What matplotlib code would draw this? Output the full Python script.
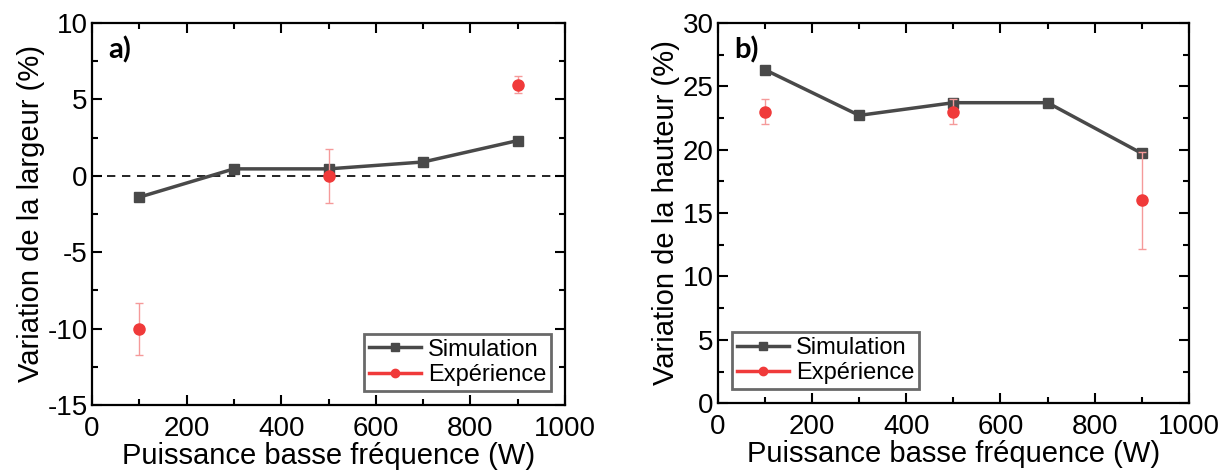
import numpy as np
import matplotlib.pyplot as plt
from matplotlib.ticker import MultipleLocator
from matplotlib.lines import Line2D

plt.rcParams['font.family'] = ['Liberation Sans', 'DejaVu Sans']
plt.rcParams['axes.unicode_minus'] = False

# puissance basse fréquence (W)
p_sim = [100, 300, 500, 700, 900]
p_exp = [100, 500, 900]

# a) variation de la largeur (%)
larg_sim = [-1.4, 0.45, 0.45, 0.9, 2.3]
larg_exp = [-10.0, 0.0, 5.95]
larg_err = [1.7, 1.75, 0.55]

# b) variation de la hauteur (%)
haut_sim = [26.3, 22.7, 23.7, 23.7, 19.7]
haut_exp = [23.0, 23.0, 16.0]
haut_err = [1.0, 1.0, 3.8]

c_sim = '#494949'
c_exp = '#f03a3a'

fig = plt.figure(figsize=(12.27, 4.75), dpi=100)
ax1 = fig.add_axes([0.075, 0.147, 0.3855, 0.805])
ax2 = fig.add_axes([0.585, 0.151, 0.384, 0.801])


def draw(ax, ysim, yexp, yerr):
    ax.plot(p_sim, ysim, '-s', color=c_sim, lw=2.5, ms=7.5, label='Simulation')
    ax.errorbar(p_exp, yexp, yerr=yerr, fmt='o', color=c_exp, ms=8,
                ecolor='#f59a9a', elinewidth=1, capsize=3, capthick=1,
                label='Expérience')
    ax.set_xlim(0, 1000)
    ax.xaxis.set_major_locator(MultipleLocator(200))
    ax.xaxis.set_minor_locator(MultipleLocator(100))
    ax.tick_params(which='both', direction='in', top=True, right=True,
                   width=1.5, labelsize=20, pad=3)
    ax.tick_params(axis='x', which='major', pad=8)
    ax.tick_params(which='major', length=7)
    ax.tick_params(which='minor', length=4)
    for s in ax.spines.values():
        s.set_linewidth(1.6)
    ax.set_xlabel('Puissance basse fréquence (W)', fontsize=21, labelpad=0)


draw(ax1, larg_sim, larg_exp, larg_err)
ax1.axhline(0, color='black', ls=(0, (5, 4)), lw=1.2, zorder=0)
ax1.set_ylim(-15, 10)
ax1.yaxis.set_major_locator(MultipleLocator(5))
ax1.yaxis.set_minor_locator(MultipleLocator(2.5))
ax1.set_ylabel('Variation de la largeur (%)', fontsize=21, labelpad=2)
ax1.text(0.035, 0.965, 'a)', transform=ax1.transAxes, fontsize=21,
         fontweight='bold', family='Lato', va='top')

draw(ax2, haut_sim, haut_exp, haut_err)
ax2.set_ylim(0, 30)
ax2.yaxis.set_major_locator(MultipleLocator(5))
ax2.yaxis.set_minor_locator(MultipleLocator(2.5))
ax2.set_ylabel('Variation de la hauteur (%)', fontsize=21, labelpad=2)
ax2.text(0.035, 0.965, 'b)', transform=ax2.transAxes, fontsize=21,
         fontweight='bold', family='Lato', va='top')

handles = [Line2D([], [], color=c_sim, marker='s', lw=2.5, ms=6),
           Line2D([], [], color=c_exp, marker='o', lw=2.5, ms=6)]
labels = ['Simulation', 'Expérience']
for ax, loc in [(ax1, 'lower right'), (ax2, 'lower left')]:
    leg = ax.legend(handles, labels, loc=loc, fontsize=17, fancybox=False,
                    handlelength=2.2, handletextpad=0.3, borderpad=0.2,
                    labelspacing=0.15, borderaxespad=0.6)
    leg.get_frame().set_edgecolor('#444444')
    leg.get_frame().set_linewidth(2)

fig.savefig('out.png', dpi=100)
